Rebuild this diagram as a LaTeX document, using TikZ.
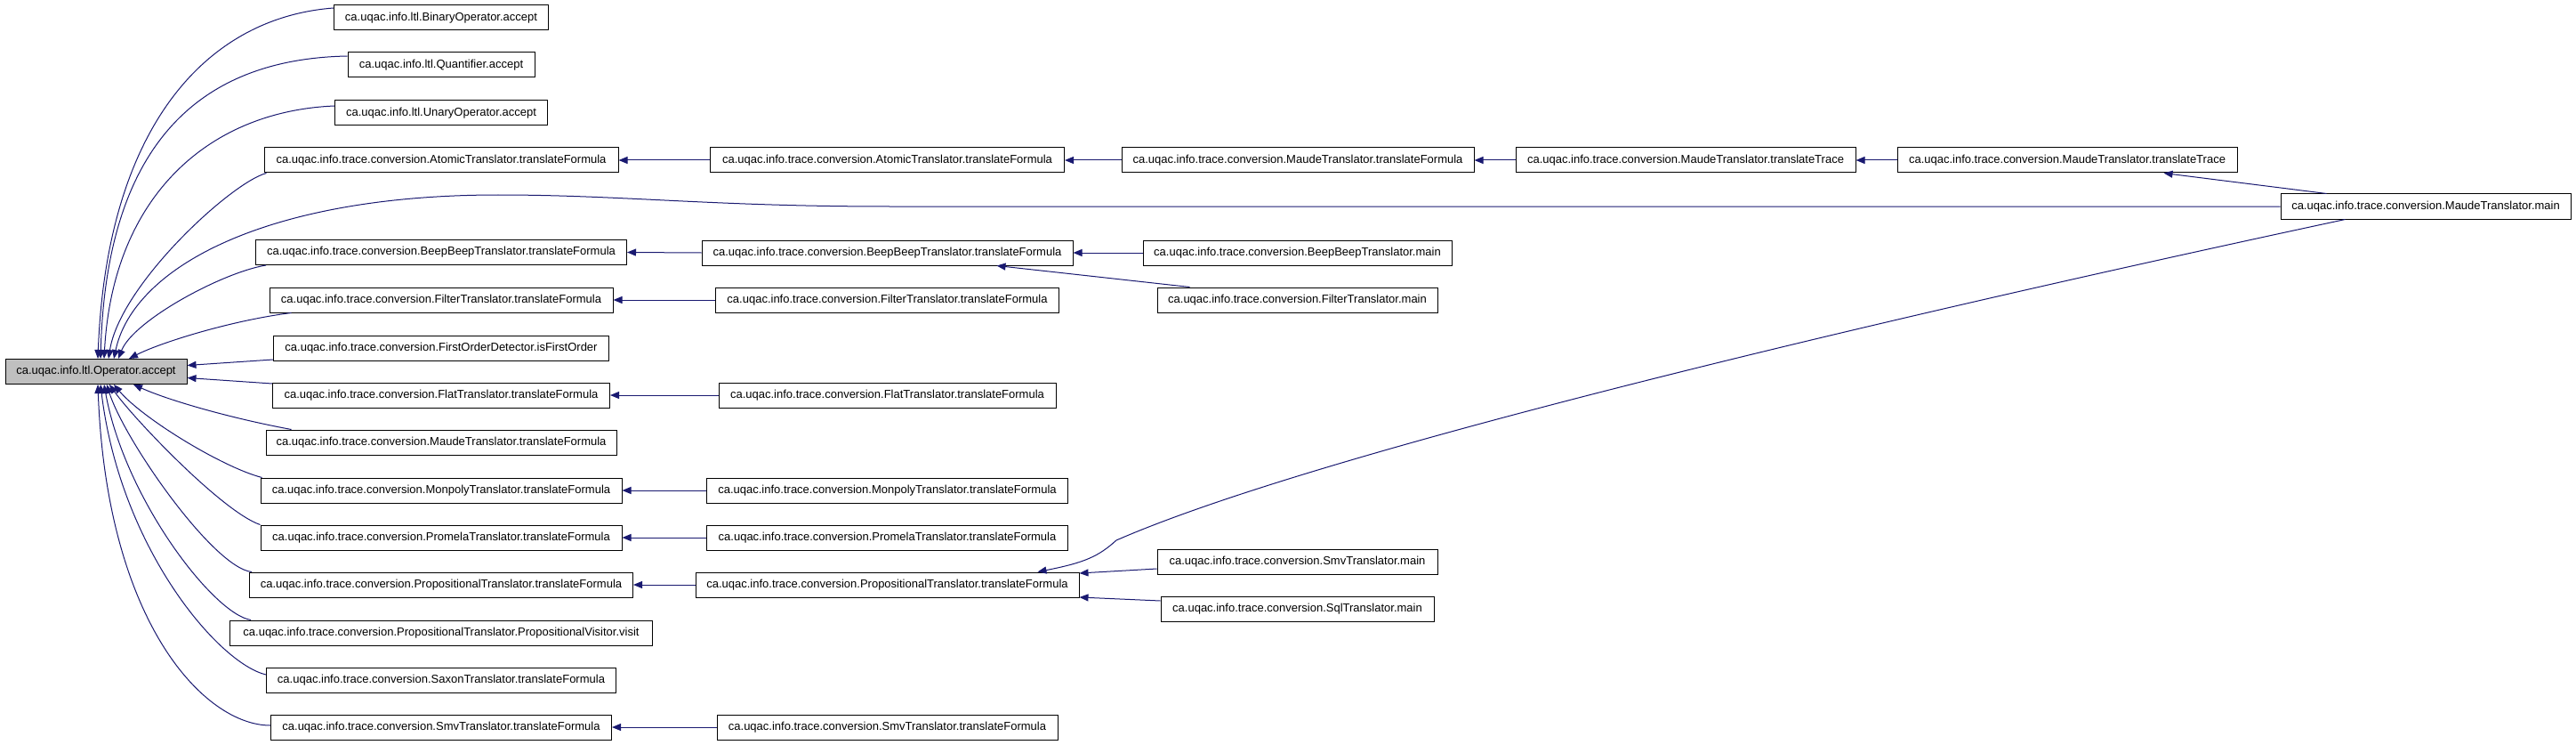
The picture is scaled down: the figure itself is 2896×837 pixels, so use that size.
\documentclass[tikz,border=0pt]{standalone}
\usepackage{fontspec}
\setmainfont{Liberation Sans}
\usetikzlibrary{arrows.meta}
\definecolor{edgeblue}{RGB}{25,25,112}
\definecolor{opgrey}{RGB}{191,191,191}
\begin{document}
\begin{tikzpicture}[x=1pt,y=-1pt,
  box/.style={draw=black, line width=1pt, minimum height=28pt, inner sep=0pt, fill=white,
    font=\fontsize{13}{15}\selectfont},
  edge/.style={draw=edgeblue, line width=1pt, -{Triangle[length=10pt,width=8pt]}}]
\useasboundingbox (0,0) rectangle (2896,837);
% column 0
\node[box, fill=opgrey, minimum width=204pt] (op) at (108,417.5) {ca.uqac.info.ltl.Operator.accept};
% column 1
\node[box, minimum width=241pt] (bin) at (496,20) {ca.uqac.info.ltl.BinaryOperator.accept};
\node[box, minimum width=210pt] (quant) at (496,73) {ca.uqac.info.ltl.Quantifier.accept};
\node[box, minimum width=239pt] (unary) at (496,127) {ca.uqac.info.ltl.UnaryOperator.accept};
\node[box, minimum width=398pt] (atomicA) at (496,180) {ca.uqac.info.trace.conversion.AtomicTranslator.translateFormula};
\node[box, minimum width=417pt] (beepA) at (496,283.5) {ca.uqac.info.trace.conversion.BeepBeepTranslator.translateFormula};
\node[box, minimum width=386pt] (filterA) at (496,337) {ca.uqac.info.trace.conversion.FilterTranslator.translateFormula};
\node[box, minimum width=377pt] (first) at (496,391) {ca.uqac.info.trace.conversion.FirstOrderDetector.isFirstOrder};
\node[box, minimum width=379pt] (flatA) at (496,444) {ca.uqac.info.trace.conversion.FlatTranslator.translateFormula};
\node[box, minimum width=394pt] (maudeA) at (496,497) {ca.uqac.info.trace.conversion.MaudeTranslator.translateFormula};
\node[box, minimum width=406pt] (monA) at (496,551) {ca.uqac.info.trace.conversion.MonpolyTranslator.translateFormula};
\node[box, minimum width=406pt] (promA) at (496,604) {ca.uqac.info.trace.conversion.PromelaTranslator.translateFormula};
\node[box, minimum width=431pt] (propA) at (496,657) {ca.uqac.info.trace.conversion.PropositionalTranslator.translateFormula};
\node[box, minimum width=475pt] (visit) at (496,711) {ca.uqac.info.trace.conversion.PropositionalTranslator.PropositionalVisitor.visit};
\node[box, minimum width=393pt] (saxon) at (496,764) {ca.uqac.info.trace.conversion.SaxonTranslator.translateFormula};
\node[box, minimum width=383pt] (smvA) at (496,817) {ca.uqac.info.trace.conversion.SmvTranslator.translateFormula};
% column 2
\node[box, minimum width=398pt] (atomicB) at (997.5,180) {ca.uqac.info.trace.conversion.AtomicTranslator.translateFormula};
\node[box, minimum width=417pt] (beepB) at (997.5,284) {ca.uqac.info.trace.conversion.BeepBeepTranslator.translateFormula};
\node[box, minimum width=386pt] (filterB) at (997.5,337) {ca.uqac.info.trace.conversion.FilterTranslator.translateFormula};
\node[box, minimum width=379pt] (flatB) at (997.5,444) {ca.uqac.info.trace.conversion.FlatTranslator.translateFormula};
\node[box, minimum width=406pt] (monB) at (997.5,551) {ca.uqac.info.trace.conversion.MonpolyTranslator.translateFormula};
\node[box, minimum width=406pt] (promB) at (997.5,604) {ca.uqac.info.trace.conversion.PromelaTranslator.translateFormula};
\node[box, minimum width=431pt] (propB) at (997.5,657) {ca.uqac.info.trace.conversion.PropositionalTranslator.translateFormula};
\node[box, minimum width=383pt] (smvB) at (997.5,817) {ca.uqac.info.trace.conversion.SmvTranslator.translateFormula};
% column 3
\node[box, minimum width=396pt] (maudeB) at (1459,180) {ca.uqac.info.trace.conversion.MaudeTranslator.translateFormula};
\node[box, minimum width=347pt] (beepMain) at (1458.5,284) {ca.uqac.info.trace.conversion.BeepBeepTranslator.main};
\node[box, minimum width=315pt] (filterMain) at (1458.5,337) {ca.uqac.info.trace.conversion.FilterTranslator.main};
\node[box, minimum width=315pt] (smvMain) at (1458.5,631) {ca.uqac.info.trace.conversion.SmvTranslator.main};
\node[box, minimum width=307pt] (sqlMain) at (1458.5,684) {ca.uqac.info.trace.conversion.SqlTranslator.main};
% columns 4-6
\node[box, minimum width=382pt] (traceA) at (1895,180) {ca.uqac.info.trace.conversion.MaudeTranslator.translateTrace};
\node[box, minimum width=382pt] (traceB) at (2324,180) {ca.uqac.info.trace.conversion.MaudeTranslator.translateTrace};
\node[box, minimum width=326pt] (maudeMain) at (2727,232) {ca.uqac.info.trace.conversion.MaudeTranslator.main};
% fan into op
\draw[edge] ([yshift=11pt]bin.west) .. controls (230,20) and (120,145) .. ([xshift=2pt]op.north);
\draw[edge] ([yshift=10pt]quant.west) .. controls (235,66) and (120,150) .. ([xshift=5pt]op.north);
\draw[edge] ([yshift=8pt]unary.west) .. controls (234,125) and (127,221) .. ([xshift=9pt]op.north);
\draw[edge] ([xshift=3pt]atomicA.south west) .. controls (260,205) and (135,320) .. ([xshift=14pt]op.north);
\draw[edge] (maudeMain.west) -- (1000,232) .. controls (800,232) and (700,219) .. (560,219)
   .. controls (300,219) and (150,300) .. ([xshift=20pt]op.north);
\draw[edge] ([xshift=12pt]beepA.south west) .. controls (250,306) and (150,360) .. ([xshift=25pt]op.north);
\draw[edge] ([xshift=25pt]filterA.south west) .. controls (260,360) and (180,385) .. ([xshift=37pt]op.north);
\draw[edge] ([yshift=-13pt]first.west) -- ([yshift=7pt]op.east);
\draw[edge] ([yshift=13pt]flatA.west) -- ([yshift=-7pt]op.east);
\draw[edge] ([xshift=29pt]maudeA.north west) .. controls (260,470) and (190,450) .. ([xshift=42pt]op.south);
\draw[edge] ([xshift=2pt]monA.north west) .. controls (250,525) and (160,470) .. ([xshift=20pt]op.south);
\draw[edge] (promA.north west) .. controls (250,575) and (150,470) .. ([xshift=15pt]op.south);
\draw[edge] ([xshift=3pt]propA.north west) .. controls (240,638) and (140,495) .. ([xshift=12pt]op.south);
\draw[edge] ([xshift=24pt]visit.north west) .. controls (240,690) and (140,560) .. ([xshift=9pt]op.south);
\draw[edge] ([yshift=6pt]saxon.west) .. controls (245,745) and (135,615) .. ([xshift=5pt]op.south);
\draw[edge] ([yshift=2pt]smvA.west) .. controls (230,815) and (120,700) .. ([xshift=2pt]op.south);
% straight chains
\draw[edge] (atomicB.west) -- (atomicA.east);
\draw[edge] (maudeB.west) -- (atomicB.east);
\draw[edge] (traceA.west) -- (maudeB.east);
\draw[edge] (traceB.west) -- (traceA.east);
\draw[edge] ([xshift=52pt]maudeMain.north west) -- ([xshift=300pt]traceB.south west);
\draw[edge] (beepB.west) -- (beepA.east);
\draw[edge] (beepMain.west) -- (beepB.east);
\draw[edge] ([xshift=37pt]filterMain.north west) -- ([xshift=332pt]beepB.south west);
\draw[edge] (filterB.west) -- (filterA.east);
\draw[edge] (flatB.west) -- (flatA.east);
\draw[edge] (monB.west) -- (monA.east);
\draw[edge] (promB.west) -- (promA.east);
\draw[edge] (propB.west) -- (propA.east);
\draw[edge] (smvB.west) -- (smvA.east);
\draw[edge] ([yshift=-8pt]smvMain.west) -- ([yshift=13pt]propB.east);
\draw[edge] ([yshift=9pt]sqlMain.west) -- ([yshift=-14pt]propB.east);
\draw[edge] ([xshift=73pt]maudeMain.south west) .. controls (2200,340) and (1500,500) .. (1255,607)
   .. controls (1235,625) and (1220,632) .. ([xshift=385pt]propB.north west);
\end{tikzpicture}
\end{document}
